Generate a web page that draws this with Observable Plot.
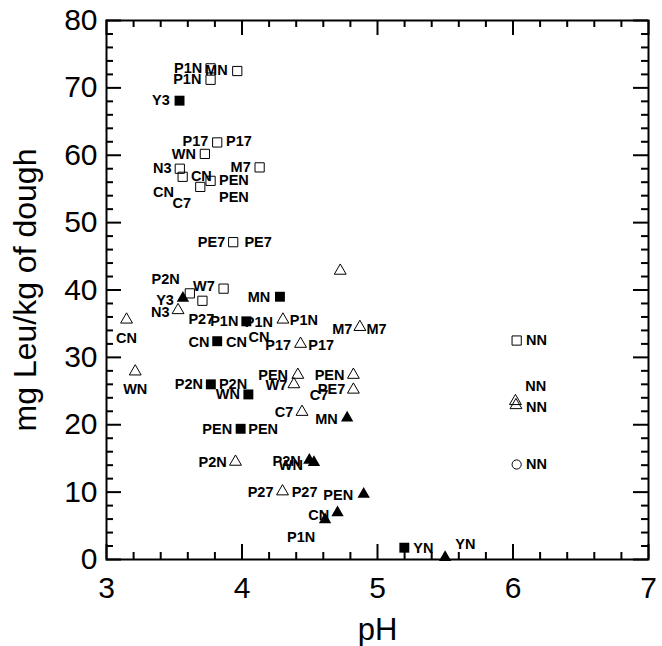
<!DOCTYPE html>
<html><head><meta charset="utf-8">
<script src="https://cdn.jsdelivr.net/npm/d3@7"></script>
<script src="https://cdn.jsdelivr.net/npm/@observablehq/plot@0.6"></script>
<style>
body{margin:0}
</style>
</head><body><div id="chart"></div>
<script>
// [pH, mg Leu/kg of dough]
const openSquares = [
  [3.768,72.9],[3.965,72.5],[3.768,71.2],[3.817,61.9],[3.726,60.2],[3.541,58.0],
  [4.130,58.2],[3.562,56.8],[3.768,56.2],[3.692,55.3],[3.935,47.1],[3.864,40.2],
  [3.615,39.5],[3.708,38.4],[6.027,32.5]
];
const filledSquares = [
  [3.539,68.1],[4.280,39.0],[4.032,35.35],[3.817,32.4],[3.770,26.0],[4.047,24.5],
  [3.990,19.4],[5.198,1.75]
];
const openTriangles = [
  [4.725,42.85],[3.148,35.6],[3.528,37.0],[4.302,35.6],[4.432,32.0],[4.870,34.5],
  [3.212,27.9],[4.412,27.4],[4.383,26.0],[4.822,27.4],[4.822,25.2],[4.443,21.9],
  [3.952,14.5],[4.299,10.1],[6.018,23.5],[6.022,22.9]
];
const filledTriangles = [
  [3.564,38.8],[4.776,21.0],[4.497,14.75],[4.531,14.4],[4.898,9.7],[4.705,6.95],
  [4.613,5.9],[5.499,0.3]
];
const openCircles = [[6.027,14.1]];

// label text and its centre [pH, value]
const labelText = [
  "P1N","MN","P1N","Y3","P17","P17","WN","N3","M7","CN","PEN","CN","C7","PEN",
  "PE7","PE7","P2N","W7","Y3","MN","N3","P27","P1N","P1N","P1N","CN","CN","CN","CN",
  "P17","P17","M7","M7","NN","PEN","W7","PEN","PE7","C7","WN","P2N","P2N","WN",
  "NN","NN","C7","MN","PEN","PEN","P2N","P2N","WN","NN","P27","P27","PEN","CN",
  "P1N","YN","YN"
];
const labelPos = [
  [3.602,72.95],[3.811,72.65],[3.596,71.2],[3.401,68.1],[3.657,62.0],[3.977,62.0],
  [3.571,60.2],[3.411,58.0],[3.99,58.2],[3.70,56.8],[3.94,56.3],[3.42,54.5],
  [3.556,52.8],[3.94,53.75],[3.775,47.1],[4.119,47.1],[3.436,41.65],[3.719,40.5],
  [3.432,38.5],[4.125,38.9],[3.397,36.7],[3.70,35.7],[3.869,35.3],[4.125,35.25],
  [4.457,35.5],[3.148,32.8],[3.682,32.3],[3.959,32.3],[4.125,32.9],[4.267,31.75],
  [4.584,31.75],[4.74,34.2],[4.993,34.2],[6.174,32.5],[4.23,27.4],[4.254,25.9],
  [4.646,27.4],[4.661,25.2],[4.568,24.3],[3.212,25.2],[3.608,26.0],[3.934,26.0],
  [3.896,24.5],[6.168,25.7],[6.174,22.6],[4.31,21.9],[4.624,20.8],[3.817,19.3],
  [4.156,19.3],[3.784,14.4],[4.33,14.6],[4.36,14.0],[6.174,14.1],[4.137,10.0],
  [4.462,10.0],[4.71,9.5],[4.566,6.6],[4.436,3.3],[5.339,1.7],[5.648,2.3]
];
const labels = labelText.map((t,i)=>({text:t, ph:labelPos[i][0], v:labelPos[i][1]}));

const xTicks = [3,4,5,6,7];
const yTicks = [0,10,20,30,40,50,60,70,80];
const xMinor = [3.2,3.4,3.6,3.8,4.2,4.4,4.6,4.8,5.2,5.4,5.6,5.8,6.2,6.4,6.6,6.8];
const yMinor = [2,4,6,8,12,14,16,18,22,24,26,28,32,34,36,38,42,44,46,48,52,54,56,58,62,64,66,68,72,74,76,78];

const xLabel = "pH";
const yLabel = "mg Leu/kg of dough";

const X = d=>d[0], Y = d=>d[1];
const font = "Liberation Sans, Arial, Helvetica, sans-serif";

const W = 662, H = 646, mL = 106, mR = 14, mT = 20, mB = 87;
const fw = W - mL - mR, fh = H - mT - mB;
const major = 15, minor = 7;
const tk = {stroke:"black", strokeWidth:2};

const chart = Plot.plot({
  width: W, height: H,
  marginLeft: mL, marginRight: mR, marginTop: mT, marginBottom: mB,
  style: {fontFamily: font},
  x: {domain:[3,7], label:null},
  y: {domain:[0,80], label:null},
  marks: [
    Plot.frame({stroke:"black", strokeWidth:2, fill:"none"}),
    // tick labels
    Plot.axisX(xTicks, {anchor:"bottom", tickSize:0, tickPadding:17, fontSize:30, fill:"black", tickFormat:d=>String(d), label:null}),
    Plot.axisY(yTicks, {anchor:"left", tickSize:0, tickPadding:9, fontSize:30, fill:"black", tickFormat:d=>String(d), label:null}),
    // inward ticks on all four sides
    Plot.tickX(xTicks.map(v=>({v})), {x:"v", insetTop: fh - major, ...tk}),
    Plot.tickX(xTicks.map(v=>({v})), {x:"v", insetBottom: fh - major, ...tk}),
    Plot.tickY(yTicks.map(v=>({v})), {y:"v", insetRight: fw - major, ...tk}),
    Plot.tickY(yTicks.map(v=>({v})), {y:"v", insetLeft: fw - major, ...tk}),
    Plot.tickX(xMinor.map(v=>({v})), {x:"v", insetTop: fh - minor, ...tk}),
    Plot.tickX(xMinor.map(v=>({v})), {x:"v", insetBottom: fh - minor, ...tk}),
    Plot.tickY(yMinor.map(v=>({v})), {y:"v", insetRight: fw - minor, ...tk}),
    Plot.tickY(yMinor.map(v=>({v})), {y:"v", insetLeft: fw - minor, ...tk}),
    // axis titles
    Plot.text([xLabel], {frameAnchor:"bottom", dy:80, lineAnchor:"bottom", textAnchor:"middle", fontSize:31, fill:"black"}),
    Plot.text([yLabel], {frameAnchor:"left", dx:-71, rotate:-90, lineAnchor:"bottom", textAnchor:"middle", fontSize:32, fill:"black"}),
    // point labels
    Plot.text(labels, {x:"ph", y:"v", text:"text", fontSize:14.5, fontWeight:"bold", fill:"black"}),
    // markers
    Plot.dot(openSquares, {x:X, y:Y, symbol:"square", r:5.2, fill:"none", stroke:"black", strokeWidth:1}),
    Plot.dot(filledSquares, {x:X, y:Y, symbol:"square", r:5.6, fill:"black", stroke:"none"}),
    Plot.dot(openTriangles, {x:X, y:Y, symbol:"triangle", r:4.4, fill:"none", stroke:"black", strokeWidth:1}),
    Plot.dot(filledTriangles, {x:X, y:Y, symbol:"triangle", r:4.6, fill:"black", stroke:"none"}),
    Plot.dot(openCircles, {x:X, y:Y, symbol:"circle", r:4.6, fill:"none", stroke:"black", strokeWidth:1})
  ]
});
document.getElementById("chart").appendChild(chart);
</script>
</body></html>
